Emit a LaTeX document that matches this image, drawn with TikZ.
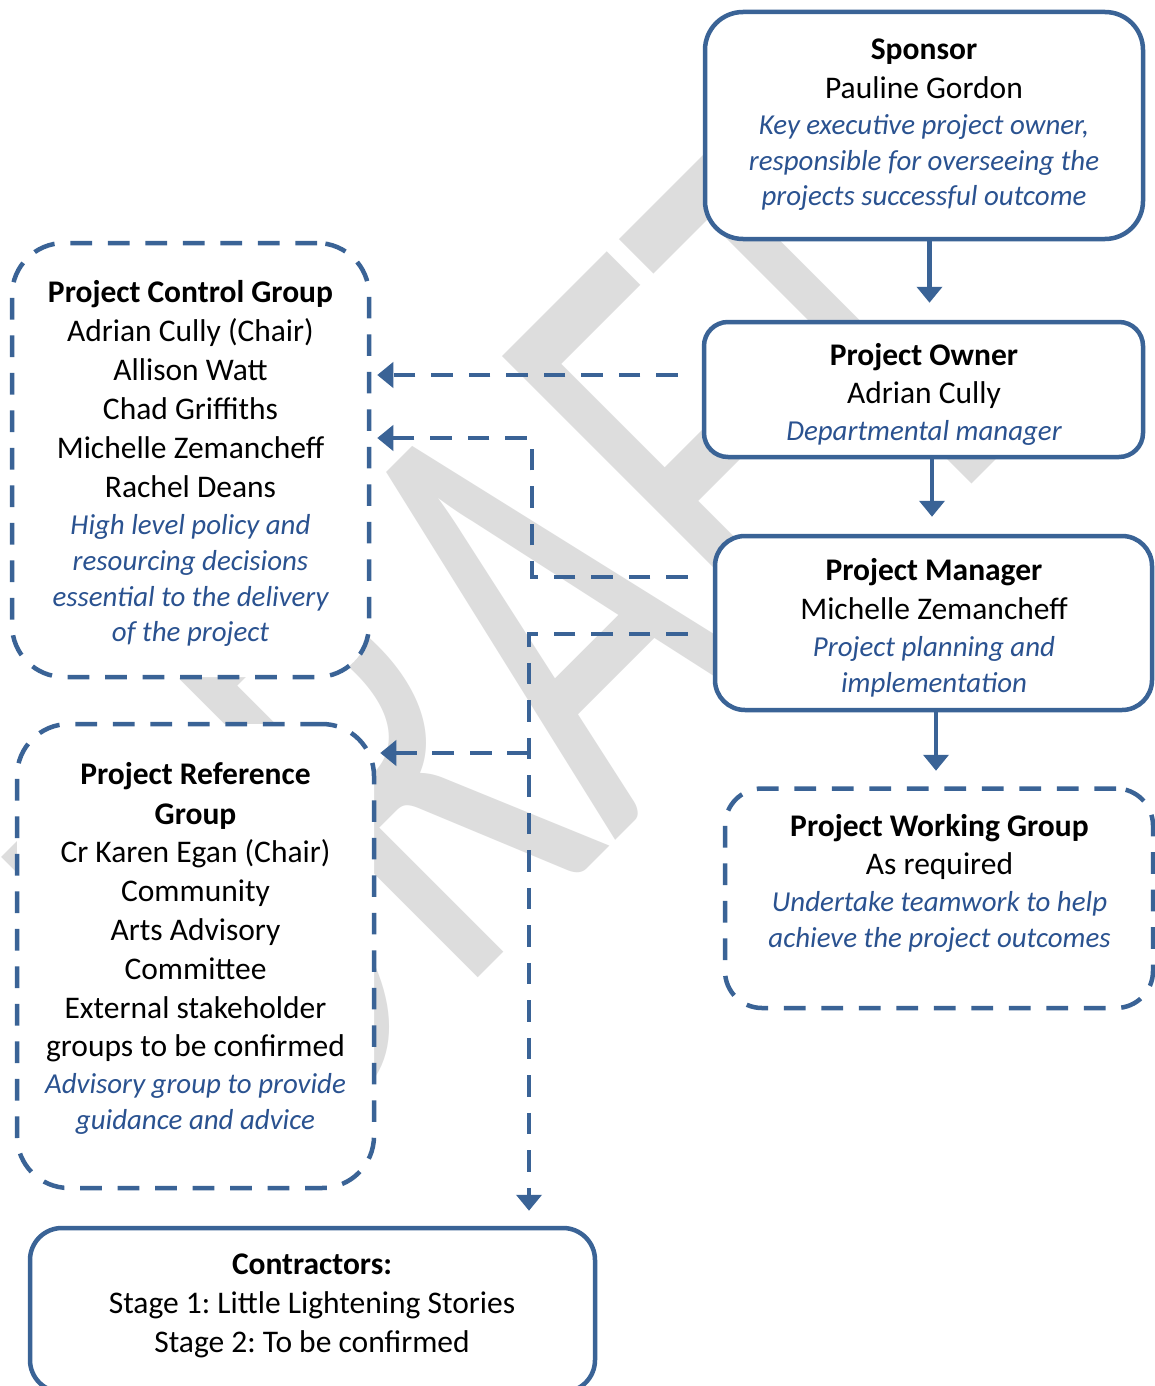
\documentclass[tikz,border=0pt]{standalone}
\usepackage{fontspec}
\setmainfont{Carlito}
\usetikzlibrary{arrows.meta,calc}
\frenchspacing
\definecolor{bord}{HTML}{3A6396}
\definecolor{ittxt}{HTML}{2A5290}
\definecolor{wmgray}{HTML}{DDDDDD}
\newcommand\regf{\fontsize{31.5}{39}\selectfont}
\newcommand\itf{\fontsize{28.9}{36}\selectfont\itshape\color{ittxt}}
\newcommand\fst{\rule{0pt}{30pt}}
\tikzset{
  solidbox/.style={draw=bord, line width=4.5pt, fill=white, rectangle, inner sep=0pt},
  dashbox/.style={solidbox, dash pattern=on 21.7pt off 15.8pt},
  boxtext/.style={anchor=north, align=center, inner sep=0pt, font=\regf},
  sconn/.style={draw=bord, line width=4.5pt, -{Triangle[length=16pt,width=25pt]}},
  dconn/.style={sconn, dash pattern=on 21.7pt off 15.8pt},
  wm/.style={text=wmgray, inner sep=0pt, font={\fontsize{658}{658}\selectfont}}
}
\begin{document}
\begin{tikzpicture}[x=1pt,y=-1pt]
\useasboundingbox (0,0) rectangle (1155,1386);
\fill[white] (0,0) rectangle (1155,1386);
% watermark
\node[wm, rotate=45, xscale=0.62, anchor=base west] (draft) at (280.5,1175.5) {DRAFT};

% boxes
\node[solidbox, rounded corners=38pt, minimum width=438pt, minimum height=227pt] (sponsor) at (924,125.5) {};
\node[solidbox, rounded corners=24pt, minimum width=439pt, minimum height=135pt] (owner) at (923.5,389.5) {};
\node[solidbox, rounded corners=30pt, minimum width=437pt, minimum height=174pt] (manager) at (933.5,623) {};
\node[dashbox, rounded corners=37pt, minimum width=428pt, minimum height=219.5pt] (working) at (939,898.25) {};
\node[dashbox, rounded corners=52pt, minimum width=357pt, minimum height=434pt] (control) at (190.5,460) {};
\node[dashbox, rounded corners=52pt, minimum width=357pt, minimum height=464pt] (reference) at (195.5,956) {};
\node[solidbox, rounded corners=32pt, minimum width=565pt, minimum height=164pt] (contractors) at (312.5,1310) {};

% texts
\node[boxtext] (sponsortxt) at (924,29) {\fst\textbf{Sponsor}\\ Pauline Gordon\\[-3pt] {\itf Key executive project owner,}\\[-3pt] {\itf responsible for overseeing the}\\[-4pt] {\itf projects successful outcome}};
\node[boxtext] (ownertxt) at (924,335) {\fst\textbf{Project Owner}\\[-0.5pt] Adrian Cully\\[-2.5pt] {\itf Departmental manager}};
\node[boxtext] (managertxt) at (934,550.5) {\fst\textbf{Project Manager}\\[-0.5pt] Michelle Zemancheff\\[-2pt] {\itf Project planning and}\\[-3pt] {\itf implementation}};
\node[boxtext] (workingtxt) at (939.5,806) {\fst\textbf{Project Working Group}\\[-0.5pt] As required\\[-2pt] {\itf Undertake teamwork to help}\\[-3.5pt] {\itf achieve the project outcomes}};
\node[boxtext] (controltxt) at (190.5,272.7) {\fst\textbf{Project Control Group}\\ Adrian Cully (Chair)\\ Allison Watt\\ Chad Griffiths\\ Michelle Zemancheff\\ Rachel Deans\\[-2pt] {\itf High level policy and}\\[-3pt] {\itf resourcing decisions}\\[-3pt] {\itf essential to the delivery}\\[-4pt] {\itf of the project}};
\node[boxtext] (referencetxt) at (195.5,754) {\fst\textbf{Project Reference}\\[1pt] \textbf{Group}\\[-1pt] Cr Karen Egan (Chair)\\ Community\\ Arts Advisory\\ Committee\\ External stakeholder\\[-1pt] groups to be confirmed\\[-1.5pt] {\itf Advisory group to provide}\\[-3.5pt] {\itf guidance and advice}};
\node[boxtext] (contractorstxt) at (312,1244) {\fst\textbf{Contractors:}\\[0.5pt] Stage 1: Little Lightening Stories\\ Stage 2: To be confirmed};

% solid connectors
\draw[sconn, shorten >=17pt] ([xshift=5.5pt]sponsor.south) -- ([xshift=5.5pt]sponsor.south |- owner.north);
\draw[sconn, shorten >=17pt] ([xshift=8.5pt]owner.south) -- ([xshift=8.5pt]owner.south |- manager.north);
\draw[sconn, shorten >=15.5pt] ([xshift=2.5pt]manager.south) -- ([xshift=2.5pt]manager.south |- working.north);

% dashed connectors
\coordinate (a1s) at ($(owner.west)+(-24,-14.5)$);
\coordinate (a2s) at ($(manager.west)+(-25,-46)$);
\coordinate (a3s) at ($(manager.west)+(-25,11)$);
\coordinate (bendA) at (532,438);
\coordinate (bendB) at (529,753);
\draw[dconn, shorten >=6pt] (a1s) -- (control.east |- a1s);
\draw[dconn, shorten >=6pt] (a2s) -| (bendA) -- (control.east |- bendA);
\draw[dconn, shorten >=15pt] (a3s) -| (bendB) -- (bendB |- contractors.north);
\draw[dconn, shorten >=4pt] (bendB) -- (reference.east |- bendB);
\end{tikzpicture}
\end{document}
